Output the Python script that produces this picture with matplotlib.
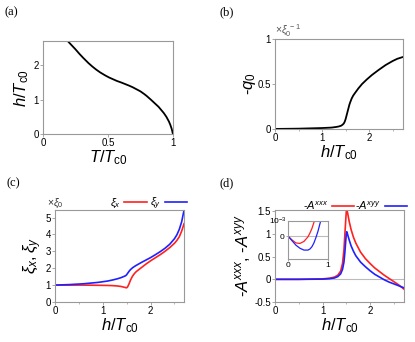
import matplotlib
matplotlib.use('Agg')
import matplotlib.pyplot as plt

plt.rcParams['font.family'] = ['Liberation Sans', 'DejaVu Sans']
plt.rcParams['mathtext.fontset'] = 'custom'
plt.rcParams['mathtext.rm'] = 'Liberation Sans'
plt.rcParams['mathtext.it'] = 'Liberation Sans:italic'

# (a) phase boundary
T_a = [0.19, 0.22, 0.25, 0.28, 0.31, 0.35, 0.38, 0.41, 0.44, 0.48, 0.51, 0.54, 0.57, 0.60, 0.62, 0.66,
       0.69, 0.72, 0.75, 0.78, 0.80, 0.83, 0.85, 0.87, 0.89, 0.91, 0.93, 0.95, 0.96, 0.97, 0.98, 0.99, 0.995, 1.0]
h_a = [2.70, 2.58, 2.46, 2.33, 2.21, 2.06, 1.96, 1.87, 1.79, 1.70, 1.64, 1.59, 1.54, 1.50, 1.47, 1.41,
       1.36, 1.30, 1.24, 1.16, 1.10, 1.00, 0.93, 0.86, 0.79, 0.70, 0.61, 0.50, 0.43, 0.36, 0.27, 0.16, 0.09, 0.0]

# (b) -q0
h_b = [0.0, 0.5, 1.0, 1.2, 1.3, 1.35, 1.4, 1.43, 1.46, 1.48, 1.50, 1.52, 1.54, 1.56, 1.58, 1.60, 1.63,
       1.66, 1.70, 1.77, 1.85, 1.95, 2.06, 2.2, 2.35, 2.5, 2.6, 2.72]
q_b = [0.0, 0.003, 0.01, 0.015, 0.022, 0.027, 0.035, 0.045, 0.06, 0.08, 0.11, 0.15, 0.19, 0.23, 0.27, 0.30, 0.34,
       0.37, 0.40, 0.45, 0.50, 0.55, 0.60, 0.655, 0.71, 0.755, 0.78, 0.80]

# (c) coherence lengths
h_c = [0.0, 0.3, 0.6, 0.9, 1.1, 1.2, 1.3, 1.38, 1.44, 1.48, 1.5, 1.52, 1.55, 1.58, 1.62, 1.66, 1.7, 1.8, 1.9,
       2.0, 2.1, 2.2, 2.3, 2.4, 2.5, 2.55, 2.6, 2.65, 2.7]
xi_x = [1.0, 1.0, 1.0, 0.99, 0.98, 0.97, 0.95, 0.92, 0.88, 0.85, 0.84, 0.9, 1.08, 1.3, 1.52, 1.68, 1.8, 2.02, 2.24,
        2.44, 2.62, 2.8, 3.0, 3.22, 3.48, 3.65, 3.86, 4.2, 4.64]
xi_y = [1.0, 1.03, 1.08, 1.16, 1.24, 1.3, 1.37, 1.44, 1.51, 1.56, 1.62, 1.7, 1.82, 1.92, 2.02, 2.1, 2.17, 2.33, 2.48,
        2.63, 2.8, 2.98, 3.18, 3.42, 3.75, 3.98, 4.3, 4.75, 5.44]

# (d) nonlinear response
h_d = [0.0, 0.5, 1.0, 1.15, 1.25, 1.32, 1.38, 1.42, 1.45, 1.47, 1.49, 1.5, 1.51, 1.53, 1.56, 1.6, 1.65, 1.7,
       1.8, 1.9, 2.0, 2.1, 2.2, 2.3, 2.4, 2.5, 2.6, 2.72]
A_xxx = [0.0, 0.0, 0.01, 0.025, 0.05, 0.09, 0.18, 0.35, 0.65, 1.0, 1.35, 1.5, 1.55, 1.45, 1.28, 1.1, 0.93, 0.8,
         0.6, 0.46, 0.35, 0.25, 0.17, 0.09, 0.02, -0.05, -0.12, -0.22]
A_xyy = [0.0, 0.0, 0.005, 0.015, 0.03, 0.06, 0.12, 0.22, 0.38, 0.6, 0.88, 1.0, 1.05, 0.98, 0.87, 0.74, 0.62, 0.52,
         0.38, 0.28, 0.19, 0.11, 0.05, -0.01, -0.06, -0.1, -0.14, -0.19]

# inset (units of 1e-3)
h_in = [0.0, 0.1, 0.2, 0.3, 0.4, 0.5, 0.55, 0.6, 0.65, 0.7, 0.75, 0.8, 0.85]
A_xxx_in = [0.0, -0.25, -0.45, -0.48, -0.35, -0.05, 0.2, 0.5, 0.9, 1.3, 1.7, 2.2, 2.7]
A_xyy_in = [0.0, -0.3, -0.6, -0.8, -0.92, -0.92, -0.85, -0.7, -0.45, -0.1, 0.3, 0.8, 1.3]

RED = '#ff2020'
BLUE = '#2020ff'
GRAY = '#999999'
xlab = r'$h/T_{\rm c0}$'

fig = plt.figure(figsize=(4.15, 3.42), dpi=100)


def style(ax):
    for s in ax.spines.values():
        s.set_color(GRAY)
        s.set_linewidth(0.8)
    ax.tick_params(labelsize=7, length=2, width=0.6, color=GRAY, pad=1)
    ax.tick_params(which='minor', length=1.5, width=0.5, color=GRAY)


ax_a = fig.add_axes([0.1036, 0.608, 0.313, 0.272])
ax_a.plot(T_a, h_a, color='black', lw=1.3)
ax_a.set_xlim(0, 1)
ax_a.set_ylim(0, 2.7)
ax_a.set_xticks([0, 0.5, 1], ['0', '0.5', '1'])
ax_a.set_yticks([0, 1, 2])
ax_a.set_xlabel(r'$T/T_{\rm c0}$', fontsize=12, labelpad=0)
ax_a.set_ylabel(xlab, fontsize=12, labelpad=2)
style(ax_a)

ax_b = fig.add_axes([0.663, 0.623, 0.308, 0.263])
ax_b.plot(h_b, q_b, color='black', lw=1.3)
ax_b.set_xlim(0, 2.72)
ax_b.set_ylim(0, 1)
ax_b.set_xticks([0, 1, 2])
ax_b.set_xticks([0.5, 1.5, 2.5], minor=True)
ax_b.set_yticks([0, 0.5, 1], ['0', '0.5', '1'])
ax_b.set_xlabel(xlab, fontsize=12, labelpad=0)
ax_b.set_ylabel(r'-$q_0$', fontsize=12, labelpad=0)
ax_b.text(0.0, 1.0, r'$\times\xi_0^{\ -1}$', transform=ax_b.transAxes, fontsize=7.5, color='#555555',
          ha='left', va='bottom')
style(ax_b)

ax_c = fig.add_axes([0.1325, 0.117, 0.311, 0.269])
ax_c.plot(h_c, xi_x, color=RED, lw=1.2, label=r'$\xi_x$')
ax_c.plot(h_c, xi_y, color=BLUE, lw=1.2, label=r'$\xi_y$')
ax_c.set_xlim(0, 2.7)
ax_c.set_ylim(0, 5.45)
ax_c.set_xticks([0, 1, 2])
ax_c.set_xticks([0.5, 1.5, 2.5], minor=True)
ax_c.set_yticks([0, 1, 2, 3, 4, 5])
ax_c.set_xlabel(xlab, fontsize=12, labelpad=0)
ax_c.set_ylabel(r'$\xi_x, \xi_y$', fontsize=12, labelpad=1)
ax_c.text(-0.06, 1.0, r'$\times\xi_0$', transform=ax_c.transAxes, fontsize=7.5, color='#333333',
          ha='left', va='bottom')
ax_c.legend(loc='lower right', bbox_to_anchor=(1.03, 0.97), ncol=2, frameon=False,
            markerfirst=False, fontsize=8, handlelength=2.0, handletextpad=0.3,
            columnspacing=0.3, borderaxespad=0, borderpad=0.1)
style(ax_c)

ax_d = fig.add_axes([0.663, 0.117, 0.311, 0.269])
ax_d.axhline(0, color='#bbbbbb', lw=0.8)
ax_d.plot(h_d, A_xxx, color=RED, lw=1.2, label=r'-$A^{xxx}$')
ax_d.plot(h_d, A_xyy, color=BLUE, lw=1.2, label=r'-$A^{xyy}$')
ax_d.set_xlim(0, 2.72)
ax_d.set_ylim(-0.5, 1.53)
ax_d.set_xticks([0, 1, 2])
ax_d.set_xticks([0.5, 1.5, 2.5], minor=True)
ax_d.set_yticks([-0.5, 0, 0.5, 1, 1.5], ['-0.5', '0', '0.5', '1', '1.5'])
ax_d.set_xlabel(xlab, fontsize=12, labelpad=0)
ax_d.set_ylabel(r'-$A^{xxx}$, -$A^{xyy}$', fontsize=12, labelpad=1)
ax_d.legend(loc='lower right', bbox_to_anchor=(1.03, 0.97), ncol=2, frameon=False,
            markerfirst=False, fontsize=8, handlelength=2.0, handletextpad=0.3,
            columnspacing=0.1, borderaxespad=0, borderpad=0.1)
style(ax_d)

ax_in = fig.add_axes([0.694, 0.243, 0.096, 0.111])
ax_in.axhline(0, color='#bbbbbb', lw=0.8)
ax_in.plot(h_in, A_xxx_in, color=RED, lw=0.9)
ax_in.plot(h_in, A_xyy_in, color=BLUE, lw=0.9)
ax_in.set_xlim(0, 1)
ax_in.set_ylim(-1.5, 1.0)
ax_in.set_xticks([0, 1])
ax_in.set_yticks([0])
ax_in.text(-0.02, 1.0, r'$10^{-3}$', transform=ax_in.transAxes, fontsize=6,
           ha='right', va='center')
style(ax_in)
ax_in.tick_params(labelsize=6, length=1.5)

for lab, x, y in [('(a)', 0.012, 0.965), ('(b)', 0.528, 0.965), ('(c)', 0.015, 0.465), ('(d)', 0.528, 0.465)]:
    fig.text(x, y, lab, fontsize=9, family='Liberation Serif', ha='left', va='center')

fig.savefig('out.png', dpi=100)
